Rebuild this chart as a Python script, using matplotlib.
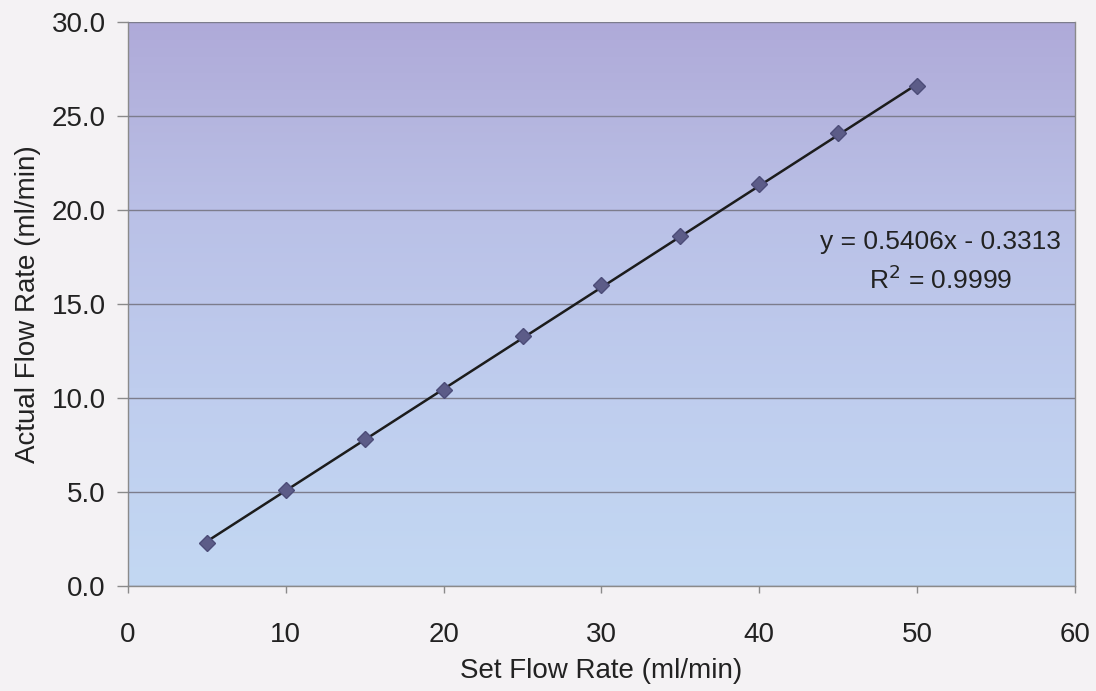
import matplotlib.pyplot as plt
import numpy as np
from matplotlib.colors import LinearSegmentedColormap

plt.rcParams["font.family"] = ["Liberation Sans", "DejaVu Sans"]
plt.rcParams["font.size"] = 20

set_rate = [5, 10, 15, 20, 25, 30, 35, 40, 45, 50]
actual_rate = [2.3, 5.1, 7.8, 10.4, 13.3, 16.0, 18.6, 21.4, 24.1, 26.6]
y_ticks = [0, 5, 10, 15, 20, 25, 30]
x_ticks = [0, 10, 20, 30, 40, 50, 60]

fig = plt.figure(figsize=(10.96, 6.91), dpi=100, facecolor="#f4f2f4")
ax = fig.add_axes([0.1168, 0.152, 0.864, 0.816])

# gradient background, purple at the top fading to light blue
grad = LinearSegmentedColormap.from_list(
    "bg", [(0, "#c3d8f3"), (0.35, "#bfcdee"), (0.65, "#bac1e7"), (0.85, "#b4b4de"), (1, "#afaad9")])
ax.imshow(np.linspace(0, 1, 256).reshape(-1, 1), cmap=grad, origin="lower",
          aspect="auto", extent=[0, 60, 0, 30], zorder=0)

ax.set_xlim(0, 60)
ax.set_ylim(0, 30)
ax.set_yticks(y_ticks)
ax.set_yticklabels([f"{v:.1f}" for v in y_ticks])
ax.set_xticks(x_ticks)
ax.yaxis.grid(True, color="#7c7c8c", lw=1)
ax.set_axisbelow(False)
for s in ax.spines.values():
    s.set_color("#8a8a8a")
    s.set_linewidth(1)
ax.spines["top"].set_visible(False)
ax.tick_params(axis="y", length=8, width=1, color="#8a8a8a", pad=8, labelcolor="#222222")
ax.tick_params(axis="x", length=5, width=1, color="#8a8a8a", pad=21, labelcolor="#222222")

# linear fit through the points
slope, intercept = 0.5406, -0.3313
xs = np.array([set_rate[0], set_rate[-1]])
ax.plot(xs, slope * xs + intercept, color="#1c1c1c", lw=1.8, zorder=3)
ax.plot(set_rate, actual_rate, ls="none", marker="D", ms=8, color="#5c5c88",
        mec="#4c4c78", zorder=4)

ax.text(51.5, 18.3, "y = 0.5406x - 0.3313", ha="center", va="center", fontsize=19, color="#222222")
ax.text(51.5, 16.3, "R$^2$ = 0.9999", ha="center", va="center", fontsize=19, color="#222222")

ax.set_xlabel("Set Flow Rate (ml/min)", fontsize=20, color="#222222", labelpad=7)
ax.set_ylabel("Actual Flow Rate (ml/min)", fontsize=20, color="#222222", labelpad=8)

fig.savefig("out.png", dpi=100, facecolor=fig.get_facecolor())
